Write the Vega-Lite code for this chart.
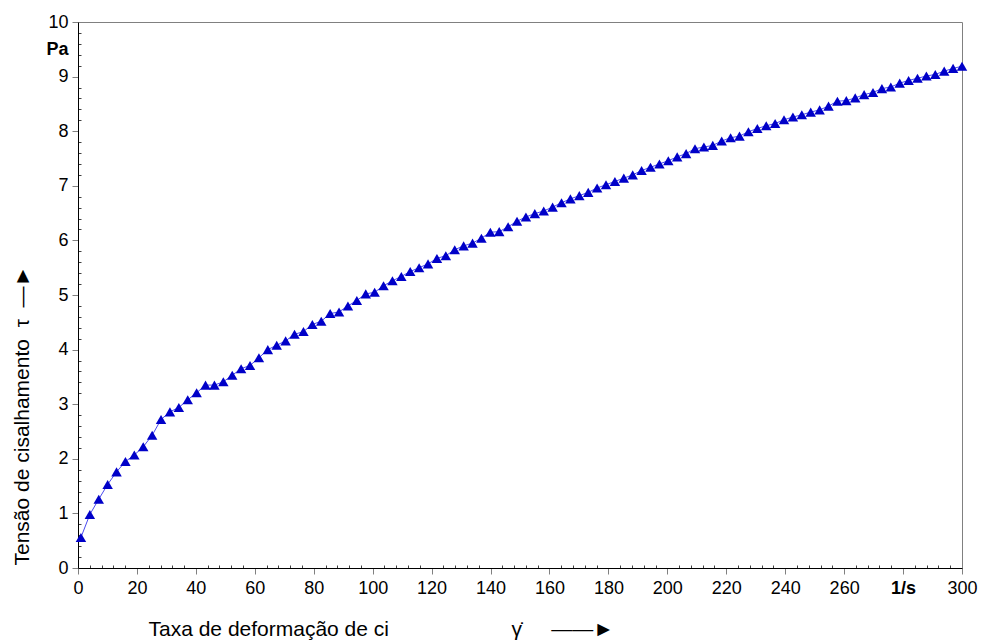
{
  "$schema": "https://vega.github.io/schema/vega-lite/v6.json",
  "width": 884,
  "height": 546,
  "autosize": "none",
  "padding": {"left": 78, "top": 22, "right": 22, "bottom": 75},
  "background": "white",
  "config": {
    "view": {"stroke": "#808080", "strokeWidth": 1},
    "font": "Liberation Sans"
  },
  "data": {
    "values": [
      {"rate": 1, "tau": 0.56}, {"rate": 4.02, "tau": 0.98}, {"rate": 7.04, "tau": 1.26}, {"rate": 10.06, "tau": 1.53},
      {"rate": 13.08, "tau": 1.76}, {"rate": 16.10, "tau": 1.95}, {"rate": 19.12, "tau": 2.07}, {"rate": 22.14, "tau": 2.22},
      {"rate": 25.16, "tau": 2.43}, {"rate": 28.18, "tau": 2.72}, {"rate": 31.20, "tau": 2.86}, {"rate": 34.22, "tau": 2.94},
      {"rate": 37.24, "tau": 3.08}, {"rate": 40.26, "tau": 3.21}, {"rate": 43.28, "tau": 3.35}, {"rate": 46.30, "tau": 3.35},
      {"rate": 49.32, "tau": 3.41}, {"rate": 52.34, "tau": 3.53}, {"rate": 55.36, "tau": 3.65}, {"rate": 58.38, "tau": 3.71},
      {"rate": 61.40, "tau": 3.85}, {"rate": 64.42, "tau": 4.00}, {"rate": 67.44, "tau": 4.08}, {"rate": 70.46, "tau": 4.16},
      {"rate": 73.48, "tau": 4.28}, {"rate": 76.51, "tau": 4.33}, {"rate": 79.53, "tau": 4.46}, {"rate": 82.55, "tau": 4.52},
      {"rate": 85.57, "tau": 4.66}, {"rate": 88.59, "tau": 4.69}, {"rate": 91.61, "tau": 4.80}, {"rate": 94.63, "tau": 4.90},
      {"rate": 97.65, "tau": 5.02}, {"rate": 100.67, "tau": 5.05}, {"rate": 103.69, "tau": 5.17}, {"rate": 106.71, "tau": 5.26},
      {"rate": 109.73, "tau": 5.34}, {"rate": 112.75, "tau": 5.43}, {"rate": 115.77, "tau": 5.50}, {"rate": 118.79, "tau": 5.57},
      {"rate": 121.81, "tau": 5.67}, {"rate": 124.83, "tau": 5.72}, {"rate": 127.85, "tau": 5.83}, {"rate": 130.87, "tau": 5.90},
      {"rate": 133.89, "tau": 5.95}, {"rate": 136.91, "tau": 6.04}, {"rate": 139.93, "tau": 6.15}, {"rate": 142.95, "tau": 6.16},
      {"rate": 145.97, "tau": 6.25}, {"rate": 148.99, "tau": 6.35}, {"rate": 152.01, "tau": 6.43}, {"rate": 155.03, "tau": 6.49},
      {"rate": 158.05, "tau": 6.54}, {"rate": 161.07, "tau": 6.61}, {"rate": 164.09, "tau": 6.69}, {"rate": 167.11, "tau": 6.76},
      {"rate": 170.13, "tau": 6.82}, {"rate": 173.15, "tau": 6.88}, {"rate": 176.17, "tau": 6.96}, {"rate": 179.19, "tau": 7.02},
      {"rate": 182.21, "tau": 7.08}, {"rate": 185.23, "tau": 7.14}, {"rate": 188.25, "tau": 7.20}, {"rate": 191.27, "tau": 7.28},
      {"rate": 194.29, "tau": 7.34}, {"rate": 197.31, "tau": 7.40}, {"rate": 200.33, "tau": 7.46}, {"rate": 203.35, "tau": 7.53},
      {"rate": 206.37, "tau": 7.59}, {"rate": 209.39, "tau": 7.68}, {"rate": 212.41, "tau": 7.71}, {"rate": 215.43, "tau": 7.74},
      {"rate": 218.45, "tau": 7.82}, {"rate": 221.47, "tau": 7.88}, {"rate": 224.49, "tau": 7.91}, {"rate": 227.52, "tau": 7.99},
      {"rate": 230.54, "tau": 8.05}, {"rate": 233.56, "tau": 8.10}, {"rate": 236.58, "tau": 8.14}, {"rate": 239.60, "tau": 8.21},
      {"rate": 242.62, "tau": 8.26}, {"rate": 245.64, "tau": 8.30}, {"rate": 248.66, "tau": 8.35}, {"rate": 251.68, "tau": 8.39},
      {"rate": 254.70, "tau": 8.46}, {"rate": 257.72, "tau": 8.55}, {"rate": 260.74, "tau": 8.56}, {"rate": 263.76, "tau": 8.61},
      {"rate": 266.78, "tau": 8.67}, {"rate": 269.80, "tau": 8.71}, {"rate": 272.82, "tau": 8.78}, {"rate": 275.84, "tau": 8.81},
      {"rate": 278.86, "tau": 8.88}, {"rate": 281.88, "tau": 8.93}, {"rate": 284.90, "tau": 8.97}, {"rate": 287.92, "tau": 9.01},
      {"rate": 290.94, "tau": 9.04}, {"rate": 293.96, "tau": 9.10}, {"rate": 296.98, "tau": 9.15}, {"rate": 300, "tau": 9.19}
    ]
  },
  "encoding": {
    "x": {
      "field": "rate",
      "type": "quantitative",
      "scale": {"domain": [0, 300], "nice": false, "zero": false},
      "axis": {
        "values": [0,4,8,12,16,20,24,28,32,36,40,44,48,52,56,60,64,68,72,76,80,84,88,92,96,100,104,108,112,116,120,124,128,132,136,140,144,148,152,156,160,164,168,172,176,180,184,188,192,196,200,204,208,212,216,220,224,228,232,236,240,244,248,252,256,260,264,268,272,276,280,284,288,292,296,300],
        "labelExpr": "datum.value % 20 == 0 ? (datum.value == 280 ? '1/s' : '' + round(datum.value)) : ''",
        "labelFontWeight": {"condition": {"test": "datum.value == 280", "value": "bold"}, "value": "normal"},
        "labelFont": "Liberation Sans",
        "labelFontSize": 18,
        "labelColor": "black",
        "labelPadding": 5,
        "labelFlush": false,
        "labelOverlap": false,
        "tickSize": {"condition": {"test": "datum.value % 20 == 0", "value": 6}, "value": -3},
        "tickColor": {"condition": {"test": "datum.value % 20 == 0", "value": "#808080"}, "value": "#404040"},
        "tickWidth": 1,
        "domainColor": "black",
        "domainWidth": 1,
        "grid": false,
        "title": "Taxa de deformação de ci\u00a0\u00a0\u00a0\u00a0\u00a0\u00a0\u00a0\u00a0\u00a0\u00a0\u00a0\u00a0\u00a0\u00a0\u00a0\u00a0\u00a0\u00a0\u00a0\u00a0\u00a0γ̇\u00a0\u00a0\u00a0\u00a0\u00a0——►",
        "titleFont": "Liberation Sans",
        "titleFontSize": 21,
        "titleFontWeight": "normal",
        "titleColor": "black",
        "titleAlign": "left",
        "titleBaseline": "alphabetic",
        "titleX": 70,
        "titleY": 67
      }
    },
    "y": {
      "field": "tau",
      "type": "quantitative",
      "scale": {"domain": [0, 10], "nice": false, "zero": false},
      "axis": {
        "values": [0,0.2,0.4,0.6,0.8,1,1.2,1.4,1.6,1.8,2,2.2,2.4,2.6,2.8,3,3.2,3.4,3.6,3.8,4,4.2,4.4,4.6,4.8,5,5.2,5.4,5.6,5.8,6,6.2,6.4,6.6,6.8,7,7.2,7.4,7.6,7.8,8,8.2,8.4,8.6,8.8,9,9.2,9.4,9.5,9.6,9.8,10],
        "labelExpr": "abs(datum.value - round(datum.value)) < 0.001 ? '' + round(datum.value) : (abs(datum.value - 9.5) < 0.001 ? 'Pa' : '')",
        "labelFontWeight": {"condition": {"test": "abs(datum.value - 9.5) < 0.001", "value": "bold"}, "value": "normal"},
        "labelFont": "Liberation Sans",
        "labelFontSize": 18,
        "labelColor": "black",
        "labelPadding": 4,
        "labelFlush": false,
        "labelOverlap": false,
        "tickSize": {"condition": {"test": "abs(datum.value - round(datum.value)) < 0.001 || abs(datum.value - 9.5) < 0.001", "value": 6}, "value": -3},
        "tickOpacity": {"condition": {"test": "abs(datum.value - 9.5) < 0.001", "value": 0}, "value": 1},
        "tickColor": {"condition": {"test": "abs(datum.value - round(datum.value)) < 0.001", "value": "#808080"}, "value": "#404040"},
        "tickWidth": 1,
        "domainColor": "black",
        "domainWidth": 1,
        "grid": false,
        "title": "Tensão de cisalhamento\u00a0\u00a0τ\u00a0\u00a0—►",
        "titleFont": "Liberation Sans",
        "titleFontSize": 21,
        "titleFontWeight": "normal",
        "titleColor": "black",
        "titleAngle": 270,
        "titleAlign": "left",
        "titleBaseline": "middle",
        "titleX": -56,
        "titleY": 543
      }
    }
  },
  "layer": [
    {
      "mark": {"type": "line", "color": "#4a4af0", "strokeWidth": 1}
    },
    {
      "mark": {"type": "point", "shape": "triangle-up", "filled": true, "size": 110, "color": "#0000c8", "opacity": 1}
    }
  ]
}
